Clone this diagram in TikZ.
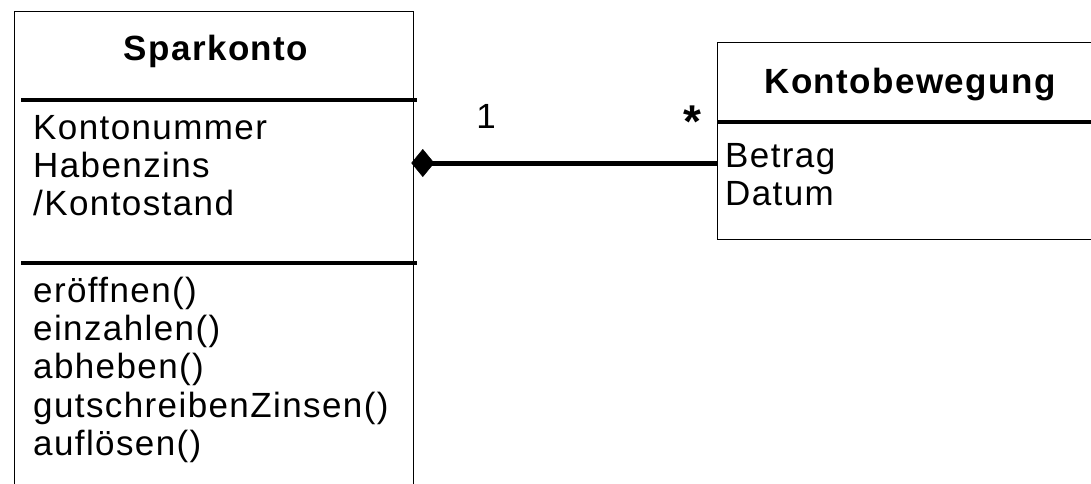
\documentclass[tikz,border=0pt]{standalone}
\usepackage{fontspec}
\setmainfont{Liberation Sans}[LetterSpace=4]
\usetikzlibrary{arrows.meta,calc}
\begin{document}
\begin{tikzpicture}[x=1pt,y=-1pt,
  classbox/.style={draw=black,line width=1.3pt,anchor=north west,inner sep=0pt},
  sepline/.style={line width=4pt},
  assoc/.style={line width=5pt,{Diamond[length=23pt,width=28pt,line width=0.5pt]}-},
  txt/.style={anchor=base west,inner sep=0pt,font=\fontsize{35}{38}\selectfont},
  ttl/.style={anchor=base,inner sep=0pt,font=\fontsize{35}{38}\selectfont\bfseries},
  mult/.style={inner sep=0pt,font=\fontsize{35}{38}\selectfont}]
\useasboundingbox (0,0) rectangle (1091,483);
\clip (0,0) rectangle (1091,483);
% class boxes
\node[classbox,minimum width=399pt,minimum height=560pt] (spar) at (14,11) {};
\node[classbox,minimum width=420pt,minimum height=197pt] (kb) at (717,42) {};
% compartment separators
\draw[sepline] ($(spar.north west)+(7,89)$) -- ($(spar.north east)+(3,89)$);
\draw[sepline] ($(spar.north west)+(7,252)$) -- ($(spar.north east)+(3,252)$);
\draw[sepline] ($(kb.north west)+(0,80)$) -- ($(kb.north east)+(0,80)$);
% titles
\node[ttl] (spartitle) at (216,60) {Sparkonto};
\node[ttl] (kbtitle) at (910,93) {Kontobewegung};
% Sparkonto attributes
\node[txt] (a1) at (33,139) {Kontonummer};
\node[txt] (a2) at (33,177) {Habenzins};
\node[txt] (a3) at (33,215) {/Kontostand};
% Sparkonto operations
\node[txt] (o1) at (33,302) {eröffnen()};
\node[txt] (o2) at (33,340) {einzahlen()};
\node[txt] (o3) at (33,378) {abheben()};
\node[txt] (o4) at (33,417) {gutschreibenZinsen()};
\node[txt] (o5) at (33,455) {auflösen()};
% Kontobewegung attributes
\node[txt] (b1) at (725,167) {Betrag};
\node[txt] (b2) at (725,205) {Datum};
% association
\coordinate (dstart) at ($(spar.east |- 0,163)+(-3,0)$);
\draw[assoc] (dstart) -- (kb.west |- dstart);
\node[mult,anchor=base] (m1) at (486,128) {1};
\node[mult,anchor=north,font=\fontsize{46}{46}\selectfont\bfseries] (m2) at (692,106) {*};
\end{tikzpicture}
\end{document}
